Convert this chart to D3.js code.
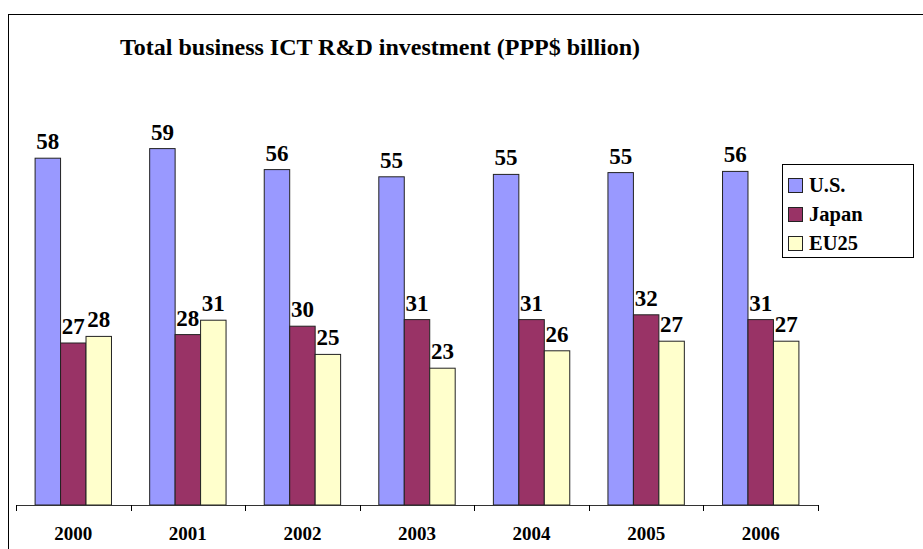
<!DOCTYPE html>
<html>
<head>
<meta charset="utf-8">
<script src="https://cdn.jsdelivr.net/npm/d3@7"></script>
<style>
  body { margin: 0; background: #fff; }
  text { font-family: "Liberation Serif", "Times New Roman", serif; font-weight: bold; fill: #000; }
</style>
</head>
<body>
<div id="chart"></div>
<script>
var years = ["2000", "2001", "2002", "2003", "2004", "2005", "2006"];
var seriesNames = ["U.S.", "Japan", "EU25"];
var usValues = [57.8, 59.4, 55.9, 54.7, 55.1, 55.4, 55.6];
var japanValues = [27.0, 28.4, 29.8, 30.9, 30.9, 31.7, 30.9];
var eu25Values = [28.1, 30.8, 25.1, 22.8, 25.7, 27.3, 27.3];
var colors = ["#9999ff", "#993366", "#ffffcc"];

var width = 923, height = 549;

var svg = d3.select("#chart").append("svg")
    .attr("width", width)
    .attr("height", height);

// outer frame
svg.append("rect")
    .attr("x", 8.5).attr("y", 14.5)
    .attr("width", 1000).attr("height", 1000)
    .attr("fill", "none")
    .attr("stroke", "#000")
    .attr("stroke-width", 1);

svg.append("text")
    .attr("x", 120).attr("y", 55)
    .style("font-size", "24px")
    .text("Total business ICT R&D investment (PPP$ billion)");

var x0 = d3.scaleBand()
    .domain(years)
    .range([16, 818]);

var x1 = d3.scaleBand()
    .domain(seriesNames)
    .range([0, x0.bandwidth()])
    .paddingInner(0)
    .paddingOuter(0.75);

var y = d3.scaleLinear()
    .domain([0, 70])
    .range([505, 85]);

var series = [usValues, japanValues, eu25Values];
var data = years.map(function(yr, i) {
    return {
        year: yr,
        vals: seriesNames.map(function(s, j) { return { name: s, value: series[j][i], color: colors[j] }; })
    };
});

var groups = svg.selectAll("g.year")
    .data(data)
    .enter().append("g")
    .attr("class", "year")
    .attr("transform", function(d) { return "translate(" + x0(d.year) + ",0)"; });

groups.selectAll("rect")
    .data(function(d) { return d.vals; })
    .enter().append("rect")
    .attr("x", function(d) { return x1(d.name); })
    .attr("y", function(d) { return y(d.value); })
    .attr("width", x1.bandwidth())
    .attr("height", function(d) { return y(0) - y(d.value); })
    .attr("fill", function(d) { return d.color; })
    .attr("stroke", "#222")
    .attr("stroke-width", 1);

groups.selectAll("text")
    .data(function(d) { return d.vals; })
    .enter().append("text")
    .attr("x", function(d) { return x1(d.name) + x1.bandwidth() / 2; })
    .attr("y", function(d) { return y(d.value) - 9; })
    .attr("text-anchor", "middle")
    .style("font-size", "23px")
    .text(function(d) { return Math.round(d.value); });

// x axis with ticks between categories
svg.append("line")
    .attr("x1", 16).attr("x2", 818)
    .attr("y1", 505.5).attr("y2", 505.5)
    .attr("stroke", "#333");

var tickPos = years.map(function(yr) { return x0(yr); }).concat([x0.range()[1]]);
svg.selectAll("line.tick")
    .data(tickPos)
    .enter().append("line")
    .attr("class", "tick")
    .attr("x1", function(d) { return Math.round(d) + 0.5; })
    .attr("x2", function(d) { return Math.round(d) + 0.5; })
    .attr("y1", 505).attr("y2", 511)
    .attr("stroke", "#000");

svg.selectAll("text.yr")
    .data(years)
    .enter().append("text")
    .attr("class", "yr")
    .attr("x", function(d) { return x0(d) + x0.bandwidth() / 2; })
    .attr("y", 540)
    .attr("text-anchor", "middle")
    .style("font-size", "19px")
    .text(function(d) { return d; });

// legend
var legend = svg.append("g").attr("transform", "translate(782,164)");
legend.append("rect")
    .attr("x", 0.5).attr("y", 0.5)
    .attr("width", 131).attr("height", 93)
    .attr("fill", "#fff")
    .attr("stroke", "#000");

var items = legend.selectAll("g.item")
    .data(seriesNames)
    .enter().append("g")
    .attr("class", "item")
    .attr("transform", function(d, i) { return "translate(6," + (14 + i * 29) + ")"; });

items.append("rect")
    .attr("x", 0.5).attr("y", 0.5)
    .attr("width", 14).attr("height", 14)
    .attr("fill", function(d, i) { return colors[i]; })
    .attr("stroke", "#222");

items.append("text")
    .attr("x", 21).attr("y", 14)
    .style("font-size", "20.5px")
    .text(function(d) { return d; });
</script>
</body>
</html>
